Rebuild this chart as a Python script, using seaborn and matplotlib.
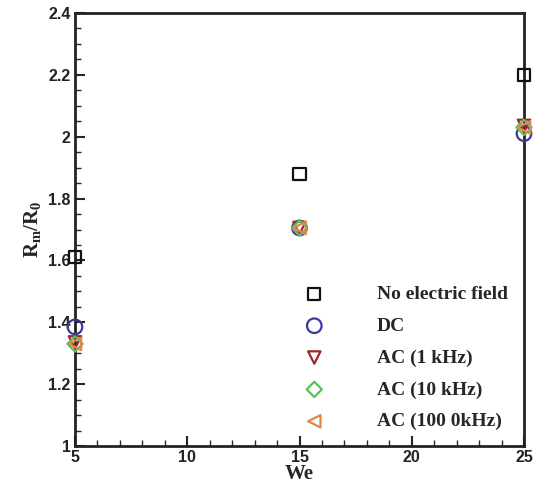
import matplotlib
matplotlib.use("Agg")
import matplotlib.pyplot as plt
import seaborn as sns
import pandas as pd
from matplotlib.ticker import MultipleLocator

sns.set_style("ticks")
plt.rcParams["mathtext.fontset"] = "custom"
plt.rcParams["mathtext.bf"] = "Liberation Serif:bold"
plt.rcParams["mathtext.rm"] = "Liberation Serif"
plt.rcParams["mathtext.it"] = "Liberation Serif:italic"

we = [5, 15, 25]
no_field = [1.61, 1.88, 2.20]
dc = [1.385, 1.705, 2.01]
ac_1k = [1.335, 1.705, 2.035]
ac_10k = [1.33, 1.705, 2.03]
ac_100k = [1.33, 1.705, 2.03]

labels = ["No electric field", "DC", "AC (1 kHz)", "AC (10 kHz)", "AC (100 0kHz)"]
series = [no_field, dc, ac_1k, ac_10k, ac_100k]
colors = ["#111111", "#3a3a9a", "#a0282d", "#5cc05c", "#e0874a"]
markers = ["s", "o", "v", "D", "<"]
sizes = [75, 110, 80, 60, 80]

rows = []
for lab, vals in zip(labels, series):
    for x, y in zip(we, vals):
        rows.append({"We": x, "ratio": y, "case": lab})
df = pd.DataFrame(rows)

fig = plt.figure(figsize=(5.43, 4.91), dpi=100)
ax = fig.add_axes([75/543, 45/491, 449/543, 433/491])

for lab, col, mk, sz in zip(labels, colors, markers, sizes):
    sub = df[df["case"] == lab]
    sns.scatterplot(data=sub, x="We", y="ratio", ax=ax, marker=mk, s=sz,
                    facecolors="none", edgecolor=col, linewidth=1.6,
                    label=lab, clip_on=False, zorder=3)

ax.set_xlim(5, 25)
ax.set_ylim(1, 2.4)
ax.xaxis.set_major_locator(MultipleLocator(5))
ax.xaxis.set_minor_locator(MultipleLocator(1))
ax.yaxis.set_minor_locator(MultipleLocator(0.05))
ax.set_yticks([1, 1.2, 1.4, 1.6, 1.8, 2, 2.2, 2.4])
ax.set_yticklabels(["1", "1.2", "1.4", "1.6", "1.8", "2", "2.2", "2.4"])
ax.tick_params(which="major", direction="in", length=7, width=1.5, labelsize=11.5, pad=3)
ax.tick_params(which="minor", direction="in", length=4, width=1.0)
ax.tick_params(top=False, right=False)
for lbl in ax.get_xticklabels() + ax.get_yticklabels():
    lbl.set_fontfamily("Liberation Sans")
    lbl.set_fontweight("bold")
    lbl.set_color("#222222")
for sp in ax.spines.values():
    sp.set_linewidth(2.0)
    sp.set_color("#222222")

ax.set_xlabel("We", fontfamily="Liberation Serif", fontweight="bold", fontsize=15, labelpad=-1)
ax.set_ylabel(r"$\mathbf{R_m/R_0}$", fontsize=15, labelpad=4)

leg = ax.legend(loc="lower left", bbox_to_anchor=(0.455, 0.0), frameon=False,
                prop={"family": "Liberation Serif", "weight": "bold", "size": 14},
                labelspacing=0.73, handletextpad=2.2, borderaxespad=0.4)

fig.savefig("out.png", dpi=100)
